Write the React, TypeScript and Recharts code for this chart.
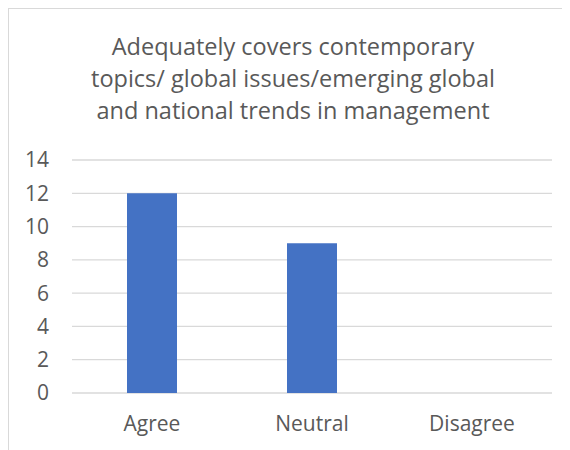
import React from "react";
import { BarChart, Bar, XAxis, YAxis, CartesianGrid } from "recharts";

const categories = ["Agree", "Neutral", "Disagree"];
const counts = [12, 9, 0];
const yTicks = [0, 2, 4, 6, 8, 10, 12, 14];
const titleLines = [
  "Adequately covers contemporary",
  "topics/ global issues/emerging global",
  "and national trends in management",
];

const data = categories.map((c, i) => ({ name: c, value: counts[i] }));

const FONT = "'Open Sans', sans-serif";
const TEXT = "#595959";

export default function App() {
  return (
    <div
      style={{
        position: "relative",
        width: 568,
        height: 448,
        border: "1px solid #D9D9D9",
        background: "#fff",
        fontFamily: FONT,
      }}
    >
      <div
        style={{
          position: "absolute",
          top: 21,
          left: 0,
          width: 568,
          textAlign: "center",
          fontSize: 23.5,
          lineHeight: "32px",
          color: TEXT,
        }}
      >
        {titleLines.map((t, i) => (
          <div key={i}>{t}</div>
        ))}
      </div>
      <BarChart
        width={568}
        height={448}
        data={data}
        margin={{ top: 151, right: 25, bottom: 24, left: 0 }}
        barSize={50}
      >
        <CartesianGrid vertical={false} stroke="#D9D9D9" strokeWidth={1.3} />
        <XAxis
          dataKey="name"
          axisLine={false}
          tickLine={false}
          height={40}
          tickMargin={17}
          tick={{ fill: TEXT, fontSize: 21, fontFamily: FONT }}
        />
        <YAxis
          width={63}
          domain={[0, 14]}
          ticks={yTicks}
          axisLine={false}
          tickLine={false}
          tickMargin={17}
          tick={{ fill: TEXT, fontSize: 21, fontFamily: FONT }}
        />
        <Bar dataKey="value" fill="#4472C4" isAnimationActive={false} />
      </BarChart>
    </div>
  );
}
